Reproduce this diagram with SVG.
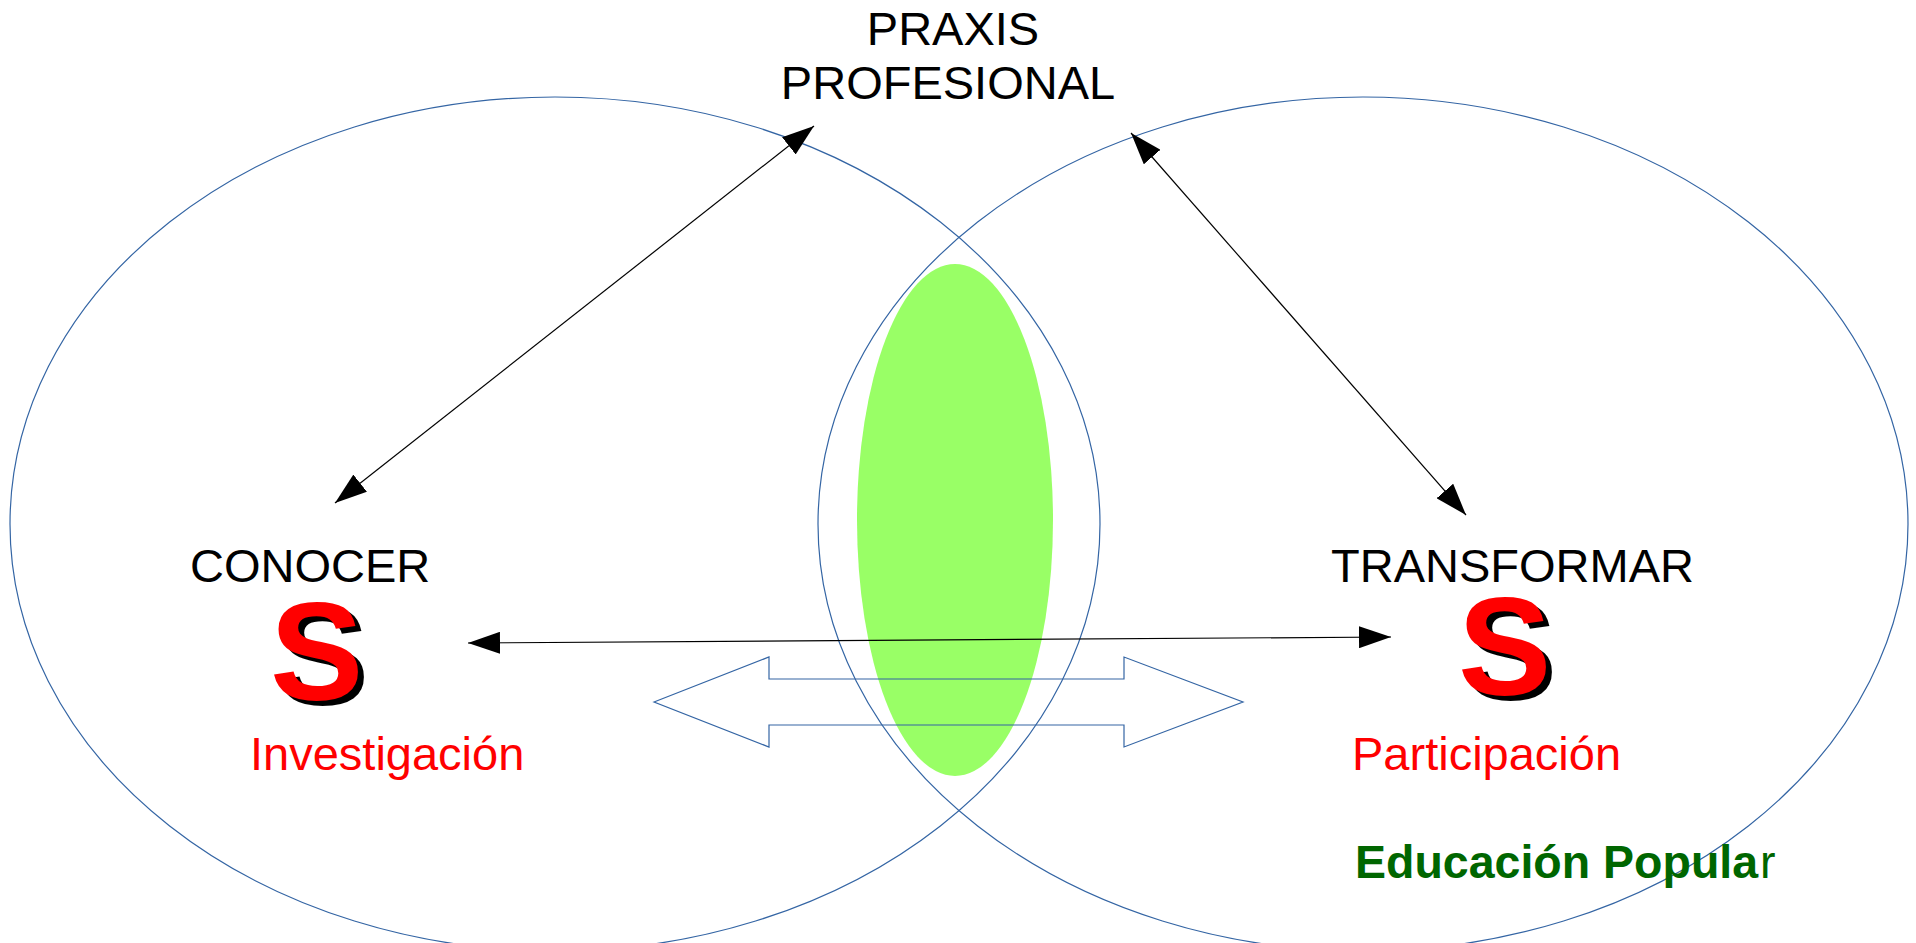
<svg xmlns="http://www.w3.org/2000/svg" width="1916" height="943" viewBox="0 0 1916 943">
<defs>
<style>
.ring{fill:none;stroke:#3465a4;stroke-width:1.2}
.t{font-family:"Liberation Sans",Arial,sans-serif;font-size:47px;fill:#000}
.red{fill:#ff0000}
.big{font-family:"Liberation Sans",Arial,sans-serif;font-size:140px;font-weight:bold}
.conn{stroke:#000;stroke-width:1.2;fill:none;marker-start:url(#ah);marker-end:url(#ah)}
</style>
<marker id="ah" markerUnits="userSpaceOnUse" markerWidth="32" markerHeight="22" refX="32" refY="11" orient="auto-start-reverse" viewBox="0 0 32 22">
<path d="M0,0 L32,11 L0,22 z" fill="#000"/>
</marker>
</defs>
<rect width="1916" height="943" fill="#fff"/>
<g id="circle-left"><ellipse class="ring" cx="555" cy="524" rx="545" ry="427"/></g>
<g id="circle-right"><ellipse class="ring" cx="1363" cy="524" rx="545" ry="427"/></g>
<g id="center-lens"><ellipse cx="955" cy="520" rx="98" ry="256" fill="#99ff66"/></g>
<g id="block-arrow"><path d="M654,702 L769,657 L769,679 L1124,679 L1124,657 L1243,702 L1124,747 L1124,725 L769,725 L769,747 Z" fill="none" stroke="#3465a4" stroke-width="1.2"/></g>
<g id="praxis"><text class="t" x="953" y="45" text-anchor="middle">PRAXIS</text><text class="t" x="948" y="99" text-anchor="middle">PROFESIONAL</text></g>
<g id="conocer">
<text class="t" x="190" y="582">CONOCER</text>
<text class="big" x="276" y="705" fill="#000">S</text>
<text class="big" x="270" y="700" fill="#ff0000">S</text>
<text class="t red" x="250" y="770">Investigación</text>
</g>
<g id="transformar">
<text class="t" x="1331" y="582">TRANSFORMAR</text>
<text class="big" x="1464" y="700" fill="#000">S</text>
<text class="big" x="1458" y="695" fill="#ff0000">S</text>
<text class="t red" x="1352" y="770">Participación</text>
</g>
<g id="educacion"><text x="1355" y="878" font-family="'Liberation Sans',Arial,sans-serif" font-size="46.5" font-weight="bold" fill="#006600">Educación Popula<tspan font-weight="normal" dx="2">r</tspan></text></g>
<g id="connectors">
<line class="conn" x1="335" y1="503" x2="814" y2="126"/>
<line class="conn" x1="1466" y1="515" x2="1131" y2="133"/>
<line class="conn" x1="468" y1="643" x2="1391" y2="637"/>
</g>
</svg>
